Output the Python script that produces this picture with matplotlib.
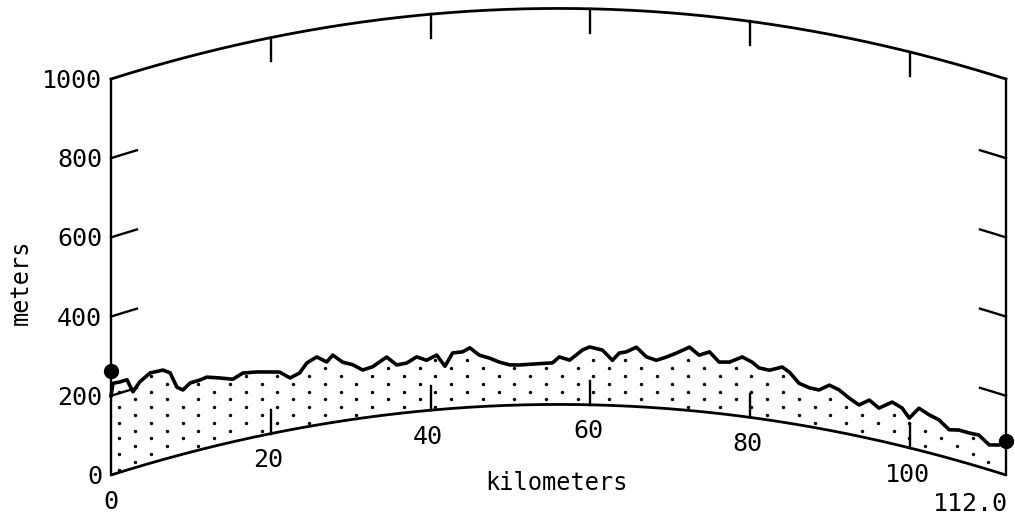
import matplotlib
matplotlib.use('Agg')
import matplotlib.pyplot as plt
import numpy as np

# path profile, terrain elevation (km along path, metres)
PATH_KM = [0, 0.25, 1.1, 2.0, 2.75, 3.6, 4.9, 6.5, 7.4, 8.25, 9.0, 9.9, 11.1, 12.0, 13.6,
           15.25, 16.5, 18.25, 19.9, 21.1, 22.4, 23.6, 24.5, 25.75, 27.0, 27.75, 29.0, 30.25,
           31.5, 32.75, 34.5, 35.75, 37.0, 38.25, 39.5, 40.75, 41.8, 42.75, 44.0, 44.9, 46.1,
           47.4, 48.6, 49.9, 51.1, 53.25, 55.25, 56.1, 57.4, 59.0, 59.9, 61.5, 62.75, 63.6,
           64.5, 65.75, 67.0, 68.25, 69.5, 70.75, 72.4, 73.6, 74.9, 76.1, 77.4, 79.0, 80.25,
           81.1, 82.4, 84.0, 84.9, 86.1, 87.4, 88.6, 89.9, 91.1, 92.4, 93.6, 94.9, 96.1,
           97.75, 99.0, 99.9, 101.1, 102.4, 103.6, 104.9, 106.1, 107.4, 108.6, 109.9, 111.1, 112.0]
ELEV_M = [200, 230, 228, 228, 193, 213, 228, 226, 214, 173, 162, 175, 176, 179, 169,
          158, 168, 163, 156, 151, 131, 139, 161, 172, 155, 170, 148, 138,
          121, 126, 146, 123, 125, 138, 127, 138, 108, 140, 141, 150, 130,
          121, 110, 102, 101, 103, 105, 120, 112, 138, 146, 139, 114, 133,
          137, 150, 127, 120, 130, 142, 160, 142, 153, 130, 133, 150, 140,
          128, 126, 139, 129, 105, 98, 97, 114, 107, 91, 79, 97, 82,
          105, 96, 75, 106, 96, 90, 72, 78, 78, 80, 63, 70, 83]

PATH_LEN_KM = 112.0
R_EFF_KM = 8800.0          # effective earth radius used for the bulge
SITE_HEIGHTS_M = [263, 85]  # end-point markers
Y_TICKS = [0, 200, 400, 600, 800, 1000]
X_TICKS = [20, 40, 60, 80, 100]
Y_TOP = 1000


def bulge(x):
    x = np.asarray(x, dtype=float)
    return x * (PATH_LEN_KM - x) / (2 * R_EFF_KM) * 1000.0


def main():
    fig = plt.figure(figsize=(10.15, 5.19), dpi=100)
    ax = fig.add_axes([0, 0, 1, 1])
    ax.set_xlim(-13.89, 113.13)
    ax.set_ylim(-111.1, 1199.5)
    ax.axis('off')

    km = np.array(PATH_KM)
    prof = np.array(ELEV_M) + bulge(km)

    xs = np.linspace(0, PATH_LEN_KM, 300)
    ax.plot(xs, bulge(xs), color='black', lw=2.0, solid_capstyle='butt')
    ax.plot(xs, Y_TOP + bulge(xs), color='black', lw=2.0)
    ax.plot([0, 0], [0, Y_TOP], color='black', lw=1.7)
    ax.plot([PATH_LEN_KM, PATH_LEN_KM], [0, Y_TOP], color='black', lw=1.7)

    # stipple between earth curve and terrain
    dx, dy = 3.955, 19.7
    pts_x, pts_y = [], []
    for j, yy in enumerate(np.arange(171 - 12 * dy, 700, dy)):
        off = 0 if j % 2 == 0 else dx / 2
        for xx in np.arange(1.04 + off - 2 * dx, PATH_LEN_KM, dx):
            if xx <= 0.3 or xx >= PATH_LEN_KM - 0.3:
                continue
            lo = bulge(xx) + 6
            hi = np.interp(xx, km, prof) - 8
            if lo < yy < hi:
                pts_x.append(xx)
                pts_y.append(yy)
    ax.scatter(pts_x, pts_y, s=6, color='black', linewidths=0)

    ax.plot(km, prof, color='black', lw=2.6, solid_joinstyle='round')
    ax.plot([0, PATH_LEN_KM], SITE_HEIGHTS_M, 'o', color='black', ms=10, linestyle='none')

    font = dict(family='DejaVu Sans Mono', color='black')
    # left/right value ticks follow the curvature
    tx = np.linspace(0, 3.25, 10)
    for v in Y_TICKS[1:-1]:
        ax.plot(tx, v + bulge(tx), color='black', lw=1.7)
        ax.plot(PATH_LEN_KM - tx, v + bulge(PATH_LEN_KM - tx), color='black', lw=1.7)
    for v in Y_TICKS:
        ax.text(-1.13, v - 5, str(v), ha='right', va='center', fontsize=18, **font)

    # distance ticks on both curves
    for t in X_TICKS:
        b = float(bulge(t))
        ax.plot([t, t], [b, b + 60], color='black', lw=1.7)
        ax.plot([t, t], [Y_TOP + b, Y_TOP + b - 60], color='black', lw=1.7)
        ax.text(t - 0.3, b - 67, str(t), ha='center', va='center', fontsize=18, **font)
    ax.text(0, -67, '0', ha='center', va='center', fontsize=18, **font)
    ax.text(PATH_LEN_KM + 0.25, -73, f'{PATH_LEN_KM:.1f}', ha='right', va='center', fontsize=18, **font)

    ax.text(55.8, -20, 'kilometers', ha='center', va='center', fontsize=17, **font)
    ax.text(-11.26, 487, 'meters', ha='center', va='center', rotation=90, fontsize=17, **font)

    fig.savefig('out.png', dpi=100)
    plt.close(fig)


if __name__ == '__main__':
    main()
